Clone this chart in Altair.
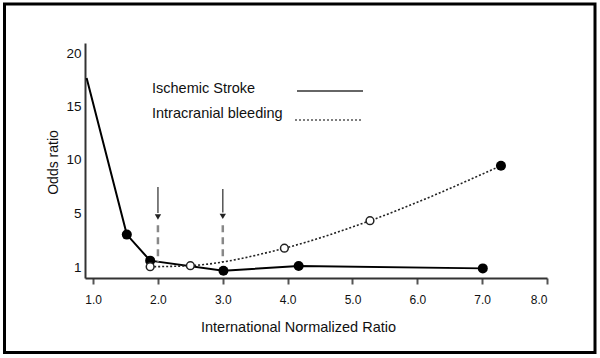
import altair as alt
import pandas as pd

# ---- data ----
series_names = ["Ischemic Stroke", "Intracranial bleeding"]

inr_ischemic = [0.9, 1.52, 1.88, 3.01, 4.17, 7.01]
or_ischemic = [17.7, 3.4, 1.47, 0.73, 1.07, 0.9]
marker_ischemic = [False, True, True, True, True, True]

inr_bleed = [1.88, 2.5, 3.95, 5.27, 7.29]
or_bleed = [1.02, 1.1, 2.39, 4.43, 9.45]
filled_bleed = [False, False, False, False, True]

arrow_inr = [2.0, 3.0]
arrow_top = [7.45, 7.26]
arrow_shaft_end = [5.0, 5.05]
arrow_head = [4.7, 4.75]
arrow_dash_start = [4.1, 4.1]
arrow_dash_end = [1.37, 1.37]

x_ticks = [1, 2, 3, 4, 5, 6, 7, 8]
y_ticks = [1, 5, 10, 15, 20]
x_title = "International Normalized Ratio"
y_title = "Odds ratio"

# ---- tables ----
isch = pd.DataFrame({"inr": inr_ischemic, "odds": or_ischemic, "marker": marker_ischemic})
bleed = pd.DataFrame({"inr": inr_bleed, "odds": or_bleed, "filled": filled_bleed})
arrows = pd.DataFrame({
    "inr": arrow_inr, "top": arrow_top, "shaft_end": arrow_shaft_end,
    "head": arrow_head, "dash_start": arrow_dash_start, "dash_end": arrow_dash_end,
})

W, H = 462, 235
FONT = "Liberation Sans"
INK = "#111111"

x_scale = alt.Scale(domain=[0.875, 8.0], nice=False, zero=False)
y_scale = alt.Scale(domain=[0.2, 1, 5, 21], range=[H, 224, 170, 0], nice=False, zero=False)

x_axis = alt.Axis(
    values=x_ticks, format=".1f", title=x_title, grid=False,
    domainColor="#333333", domainWidth=2, tickColor="#555555", tickWidth=2, tickSize=6,
    labelFont=FONT, labelFontSize=12, labelColor=INK, labelPadding=10,
    titleFont=FONT, titleFontSize=14.5, titleFontWeight="normal", titleColor=INK,
    titleX=213, titleY=49, titleBaseline="middle",
)
y_axis = alt.Axis(
    values=y_ticks, format="d", title=y_title, grid=False, ticks=False,
    domainColor="#333333", domainWidth=2,
    labelFont=FONT, labelFontSize=13.5, labelColor=INK, labelPadding=4,
    titleFont=FONT, titleFontSize=14, titleFontWeight="normal", titleColor=INK,
    titleX=-32, titleY=119, titleBaseline="middle", titleAlign="center", titleAngle=-90,
)


def xq(field):
    return alt.X(f"{field}:Q", scale=x_scale, axis=x_axis)


def yq(field):
    return alt.Y(f"{field}:Q", scale=y_scale, axis=y_axis)


one = pd.DataFrame({"a": [0]})

frame = alt.Chart(one).mark_rect(fill="white", fillOpacity=0, stroke="black", strokeWidth=3).encode(
    x=alt.value(-80.5), x2=alt.value(510), y=alt.value(-39), y2=alt.value(309.5)
)

shaft = alt.Chart(arrows).mark_rule(color="#555555", strokeWidth=1.5).encode(
    x=xq("inr"), y=yq("top"), y2="shaft_end:Q",
)
head = alt.Chart(arrows).mark_point(shape="triangle-down", filled=True, color="#222222", size=40, opacity=1).encode(
    x=xq("inr"), y=yq("head"),
)
dash = alt.Chart(arrows).mark_rule(color="#888888", strokeWidth=2.5, strokeDash=[7, 5]).encode(
    x=xq("inr"), y=yq("dash_start"), y2="dash_end:Q",
)

isch_line = alt.Chart(isch).mark_line(color="black", strokeWidth=2).encode(x=xq("inr"), y=yq("odds"))
bleed_line = alt.Chart(bleed).mark_line(color="#222222", strokeWidth=1.6, strokeDash=[2, 2],
                                        interpolate="monotone").encode(x=xq("inr"), y=yq("odds"))

isch_pts = alt.Chart(isch).transform_filter("datum.marker").mark_circle(
    color="black", size=100, opacity=1).encode(x=xq("inr"), y=yq("odds"))
bleed_open = alt.Chart(bleed).transform_filter("!datum.filled").mark_circle(
    fill="white", stroke="#222222", strokeWidth=1.5, size=60, opacity=1).encode(x=xq("inr"), y=yq("odds"))
bleed_fill = alt.Chart(bleed).transform_filter("datum.filled").mark_circle(
    color="black", size=100, opacity=1).encode(x=xq("inr"), y=yq("odds"))

leg_t1 = alt.Chart(one).mark_text(text=series_names[0], font=FONT, fontSize=14.5, color=INK,
                                  align="left", baseline="middle").encode(x=alt.value(67), y=alt.value(46))
leg_t2 = alt.Chart(one).mark_text(text=series_names[1], font=FONT, fontSize=14.5, color=INK,
                                  align="left", baseline="middle").encode(x=alt.value(67), y=alt.value(71))
leg_l1 = alt.Chart(one).mark_rule(color="#333333", strokeWidth=1.3).encode(
    x=alt.value(212), x2=alt.value(278), y=alt.value(48))
leg_l2 = alt.Chart(one).mark_rule(color="#555555", strokeWidth=1.3, strokeDash=[2, 2]).encode(
    x=alt.value(210), x2=alt.value(278), y=alt.value(77))

chart = alt.layer(
    isch_line, frame, shaft, head, dash, bleed_line, isch_pts, bleed_open, bleed_fill,
    leg_t1, leg_t2, leg_l1, leg_l2,
).properties(
    width=W, height=H,
    autosize=alt.AutoSizeParams(type="none"),
    padding={"left": 85, "top": 43, "right": 53, "bottom": 80},
    background="white",
).configure_view(stroke=None)

chart.save("out.html", embed_options={"renderer": "svg", "actions": False})
